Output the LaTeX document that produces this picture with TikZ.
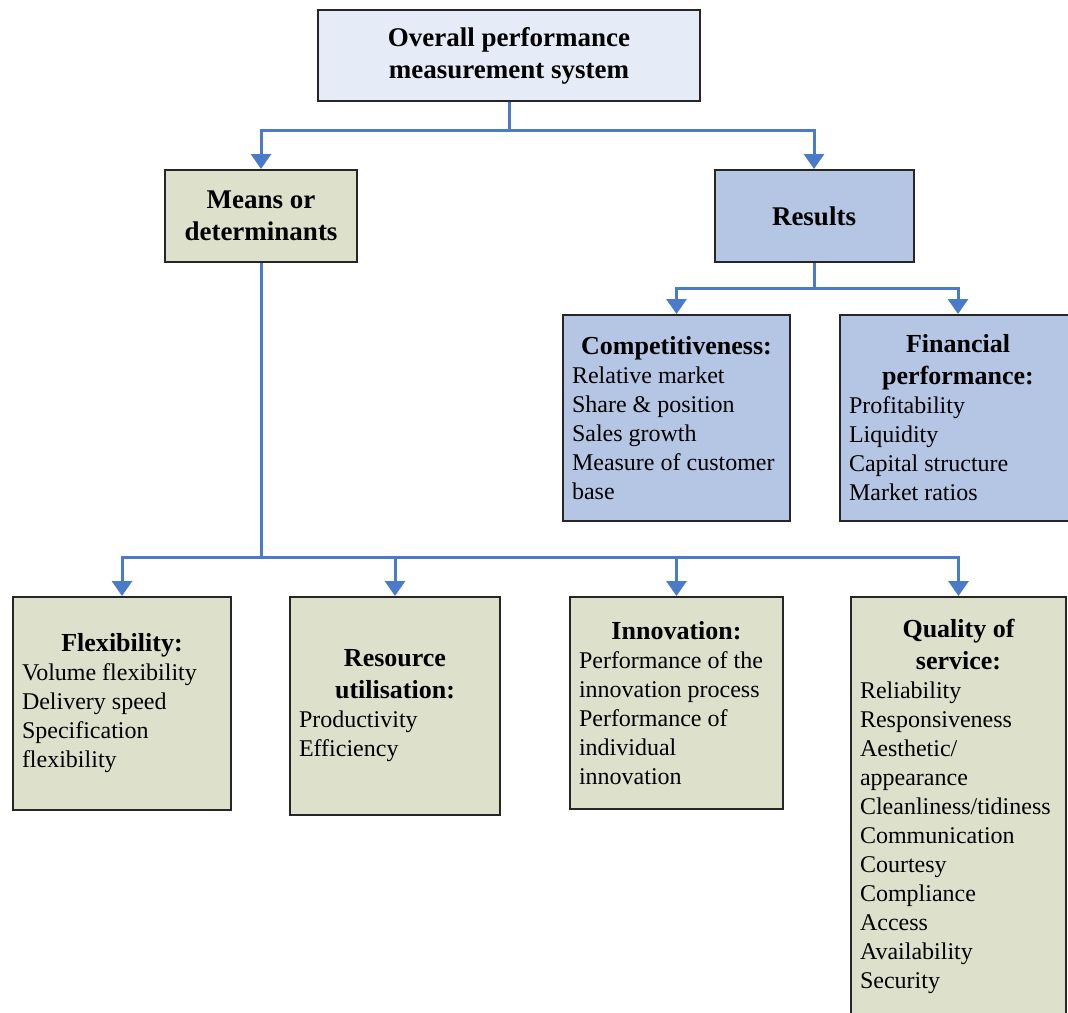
\documentclass[tikz,border=0pt]{standalone}
\usepackage{fontspec}
\setmainfont{Liberation Serif}
\usetikzlibrary{arrows.meta}

\definecolor{topfill}{HTML}{E6ECF7}
\definecolor{meansfill}{HTML}{DDE1CB}
\definecolor{resfill}{HTML}{B4C6E4}
\definecolor{linkblue}{HTML}{4A7BC8}
\definecolor{edge}{HTML}{262626}

% heading line(s) of a box, centred, bold and a little larger
\newcommand\boxhead[1]{{\centering\fontsize{13}{16}\selectfont\bfseries #1\par}}
% list text: no hyphenation
\newcommand\listfont{\fontsize{12}{14.5}\selectfont\hyphenpenalty=10000\relax}

\tikzset{
  box/.style={draw=edge, line width=1pt, inner ysep=5.5pt, inner xsep=4.5pt, rectangle},
  titlebox/.style={box, align=flush center, font=\fontsize{13.5}{16}\selectfont\bfseries},
  listbox/.style={box, align=flush left, font=\listfont},
  link/.style={draw=linkblue, line width=1.5pt},
  linkarrow/.style={link, -{Triangle[width=10pt,length=7.5pt]}},
}

\begin{document}
\begin{tikzpicture}[x=0.5pt,y=-0.5pt]
\useasboundingbox (0,0) rectangle (1068,1012);
\clip (0,0) rectangle (1068,1012);
\fill[white] (0,0) rectangle (1068,1012);

% top level
\node[titlebox, fill=topfill, minimum width=191pt, minimum height=45.5pt] (top) at (509,55.5)
  {Overall performance\\measurement system};

% second level
\node[titlebox, fill=meansfill, minimum width=96pt, minimum height=46pt] (means) at (261,216)
  {Means or\\determinants};
\node[titlebox, fill=resfill, minimum width=99.5pt, minimum height=46pt] (results) at (814,216)
  {Results};

% results
\node[listbox, fill=resfill, text width=104.5pt, minimum height=103pt] (comp) at (676.5,418)
  {\boxhead{Competitiveness:}Relative market\\Share \& position\\Sales growth\\Measure of customer\\base};
\node[listbox, fill=resfill, text width=109pt, minimum height=103pt] (fin) at (958,418)
  {\boxhead{Financial\\performance:}Profitability\\Liquidity\\Capital structure\\Market ratios};

% means or determinants
\node[listbox, fill=meansfill, text width=100pt, minimum height=106.5pt] (flex) at (122,703.5)
  {\boxhead{Flexibility:}Volume flexibility\\Delivery speed\\Specification\\flexibility};
\node[listbox, fill=meansfill, text width=96pt, minimum height=109pt] (resu) at (395,706)
  {\boxhead{Resource\\utilisation:}Productivity\\Efficiency};
\node[listbox, fill=meansfill, text width=97.5pt, minimum height=106pt] (inno) at (676.5,703)
  {\boxhead{Innovation:}Performance of the\\innovation process\\Performance of\\individual\\innovation};
\node[listbox, fill=meansfill, text width=98.5pt, minimum height=209pt] (qual) at (958.5,806)
  {\boxhead{Quality of\\service:}Reliability\\Responsiveness\\Aesthetic/\\appearance\\Cleanliness/tidiness\\Communication\\Courtesy\\Compliance\\Access\\Availability\\Security};

% connectors
\coordinate (j1) at (509,130);
\coordinate (j2) at (814,288);
\coordinate (j3) at (261,557);

\draw[link] (top.south) -- (j1);
\draw[linkarrow] (j1) -| (means.north);
\draw[linkarrow] (j1) -| (results.north);

\draw[link] (results.south) -- (j2);
\draw[linkarrow] (j2) -| (comp.north);
\draw[linkarrow] (j2) -| (fin.north);

\draw[link] (means.south) -- (j3);
\draw[linkarrow] (j3) -| (flex.north);
\draw[linkarrow] (j3) -| (resu.north);
\draw[linkarrow] (j3) -| (inno.north);
\draw[linkarrow] (j3) -| (qual.north);
\end{tikzpicture}
\end{document}
